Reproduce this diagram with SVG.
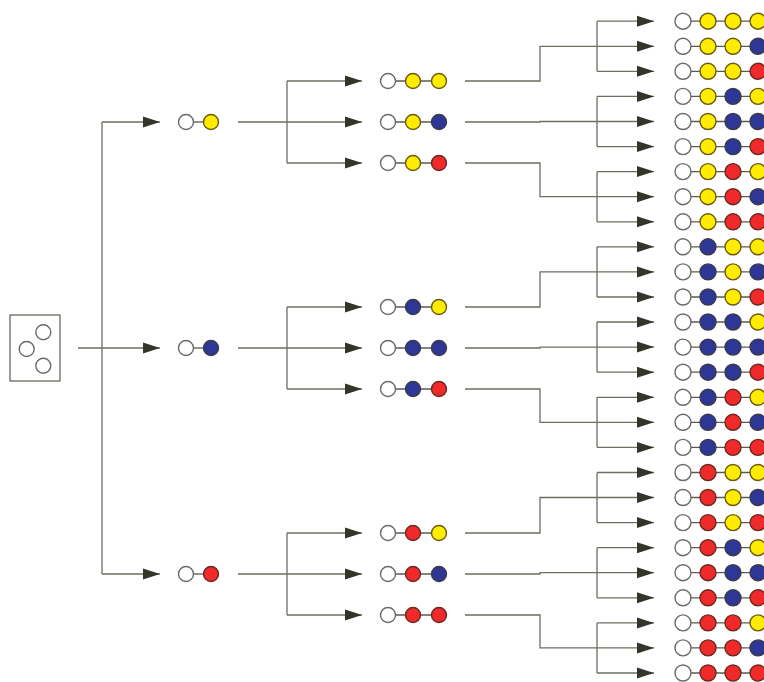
<svg xmlns="http://www.w3.org/2000/svg" width="764" height="682" viewBox="0 0 764 682">
<style>
.c{fill:none;stroke:#6e6e62;stroke-width:1.3}
.a{fill:none;stroke:#6e6e62;stroke-width:1.3;marker-end:url(#ah)}
.k{stroke:#5a5a50;stroke-width:1.3}
.w{fill:#fff;stroke:#6a6a66;stroke-width:1.4}
.y{fill:#ffec00;stroke:#6b5a10;stroke-width:1.4}
.b{fill:#2e3796;stroke:#3a3a4a;stroke-width:1.4}
.r{fill:#f02a2a;stroke:#6a2a20;stroke-width:1.4}
.box{fill:#fff;stroke:#6a6a60;stroke-width:1.3}
</style>
<defs>
<marker id="ah" markerUnits="userSpaceOnUse" markerWidth="18" markerHeight="12" refX="17" refY="6" orient="auto">
<path d="M0,0.5 L17,6 L0,11.5 Z" fill="#34342a"/>
</marker>
</defs>
<rect width="764" height="682" fill="#fff"/>
<g id="connectors">
<!-- level 1 -->
<path class="c" d="M78,348 H102 M102,122 V574"/>
<path class="a" d="M102,122 H160"/>
<path class="a" d="M102,348 H160"/>
<path class="a" d="M102,574 H160"/>
<!-- level 2 -->
<path class="c" d="M238,122 H287 M287,81 V163"/>
<path class="a" d="M287,81 H362"/><path class="a" d="M287,122 H362"/><path class="a" d="M287,163 H362"/>
<path class="c" d="M238,348 H287 M287,307 V389"/>
<path class="a" d="M287,307 H362"/><path class="a" d="M287,348 H362"/><path class="a" d="M287,389 H362"/>
<path class="c" d="M238,574 H287 M287,533 V615"/>
<path class="a" d="M287,533 H362"/><path class="a" d="M287,574 H362"/><path class="a" d="M287,615 H362"/>
<!-- level 3 -->
<path class="c" d="M465,81 H540 V46.3 H597 M597,21.2 V71.3"/>
<path class="a" d="M597,21.2 H654"/><path class="a" d="M597,46.3 H654"/><path class="a" d="M597,71.3 H654"/>
<path class="c" d="M465,122 H540 V121.5 H597 M597,96.4 V146.6"/>
<path class="a" d="M597,96.4 H654"/><path class="a" d="M597,121.5 H654"/><path class="a" d="M597,146.6 H654"/>
<path class="c" d="M465,163 H540 V196.7 H597 M597,171.6 V221.8"/>
<path class="a" d="M597,171.6 H654"/><path class="a" d="M597,196.7 H654"/><path class="a" d="M597,221.8 H654"/>
<path class="c" d="M465,307 H540 V271.9 H597 M597,246.8 V297"/>
<path class="a" d="M597,246.8 H654"/><path class="a" d="M597,271.9 H654"/><path class="a" d="M597,297 H654"/>
<path class="c" d="M465,348 H540 V347.1 H597 M597,322 V372.2"/>
<path class="a" d="M597,322 H654"/><path class="a" d="M597,347.1 H654"/><path class="a" d="M597,372.2 H654"/>
<path class="c" d="M465,389 H540 V422.3 H597 M597,397.3 V447.4"/>
<path class="a" d="M597,397.3 H654"/><path class="a" d="M597,422.3 H654"/><path class="a" d="M597,447.4 H654"/>
<path class="c" d="M465,533 H540 V497.5 H597 M597,472.5 V522.6"/>
<path class="a" d="M597,472.5 H654"/><path class="a" d="M597,497.5 H654"/><path class="a" d="M597,522.6 H654"/>
<path class="c" d="M465,574 H540 V572.7 H597 M597,547.7 V597.8"/>
<path class="a" d="M597,547.7 H654"/><path class="a" d="M597,572.7 H654"/><path class="a" d="M597,597.8 H654"/>
<path class="c" d="M465,615 H540 V647.9 H597 M597,622.9 V673"/>
<path class="a" d="M597,622.9 H654"/><path class="a" d="M597,647.9 H654"/><path class="a" d="M597,673 H654"/>
</g>
<defs>
<g id="L2"><line class="k" x1="186" y1="0" x2="211" y2="0"/><circle class="w" cx="186" cy="0" r="7.5"/></g>
<g id="L3"><line class="k" x1="388" y1="0" x2="439" y2="0"/><circle class="w" cx="388" cy="0" r="7.5"/></g>
<g id="L4"><line class="k" x1="683" y1="0" x2="758" y2="0"/><circle class="w" cx="683" cy="0" r="8"/></g>
</defs>
<g id="root">
<rect class="box" x="10" y="315" width="50" height="66"/>
<circle class="w" cx="43.3" cy="332.3" r="7.5"/>
<circle class="w" cx="26.7" cy="349" r="7.5"/>
<circle class="w" cx="43.3" cy="365.7" r="7.5"/>
</g>
<g id="n-y"><use href="#L2" y="122"/><circle class="y" cx="211" cy="122" r="7.5"/></g>
<g id="n-b"><use href="#L2" y="348"/><circle class="b" cx="211" cy="348" r="7.5"/></g>
<g id="n-r"><use href="#L2" y="574"/><circle class="r" cx="211" cy="574" r="7.5"/></g>
<g id="n-yy"><use href="#L3" y="81"/><circle class="y" cx="413" cy="81" r="7.5"/><circle class="y" cx="439" cy="81" r="7.5"/></g>
<g id="n-yb"><use href="#L3" y="122"/><circle class="y" cx="413" cy="122" r="7.5"/><circle class="b" cx="439" cy="122" r="7.5"/></g>
<g id="n-yr"><use href="#L3" y="163"/><circle class="y" cx="413" cy="163" r="7.5"/><circle class="r" cx="439" cy="163" r="7.5"/></g>
<g id="n-by"><use href="#L3" y="307"/><circle class="b" cx="413" cy="307" r="7.5"/><circle class="y" cx="439" cy="307" r="7.5"/></g>
<g id="n-bb"><use href="#L3" y="348"/><circle class="b" cx="413" cy="348" r="7.5"/><circle class="b" cx="439" cy="348" r="7.5"/></g>
<g id="n-br"><use href="#L3" y="389"/><circle class="b" cx="413" cy="389" r="7.5"/><circle class="r" cx="439" cy="389" r="7.5"/></g>
<g id="n-ry"><use href="#L3" y="533"/><circle class="r" cx="413" cy="533" r="7.5"/><circle class="y" cx="439" cy="533" r="7.5"/></g>
<g id="n-rb"><use href="#L3" y="574"/><circle class="r" cx="413" cy="574" r="7.5"/><circle class="b" cx="439" cy="574" r="7.5"/></g>
<g id="n-rr"><use href="#L3" y="615"/><circle class="r" cx="413" cy="615" r="7.5"/><circle class="r" cx="439" cy="615" r="7.5"/></g>
<g id="n-yyy"><use href="#L4" y="21.2"/><circle class="y" cx="708" cy="21.2" r="8"/><circle class="y" cx="733" cy="21.2" r="8"/><circle class="y" cx="758" cy="21.2" r="8"/></g>
<g id="n-yyb"><use href="#L4" y="46.3"/><circle class="y" cx="708" cy="46.3" r="8"/><circle class="y" cx="733" cy="46.3" r="8"/><circle class="b" cx="758" cy="46.3" r="8"/></g>
<g id="n-yyr"><use href="#L4" y="71.3"/><circle class="y" cx="708" cy="71.3" r="8"/><circle class="y" cx="733" cy="71.3" r="8"/><circle class="r" cx="758" cy="71.3" r="8"/></g>
<g id="n-yby"><use href="#L4" y="96.4"/><circle class="y" cx="708" cy="96.4" r="8"/><circle class="b" cx="733" cy="96.4" r="8"/><circle class="y" cx="758" cy="96.4" r="8"/></g>
<g id="n-ybb"><use href="#L4" y="121.5"/><circle class="y" cx="708" cy="121.5" r="8"/><circle class="b" cx="733" cy="121.5" r="8"/><circle class="b" cx="758" cy="121.5" r="8"/></g>
<g id="n-ybr"><use href="#L4" y="146.6"/><circle class="y" cx="708" cy="146.6" r="8"/><circle class="b" cx="733" cy="146.6" r="8"/><circle class="r" cx="758" cy="146.6" r="8"/></g>
<g id="n-yry"><use href="#L4" y="171.6"/><circle class="y" cx="708" cy="171.6" r="8"/><circle class="r" cx="733" cy="171.6" r="8"/><circle class="y" cx="758" cy="171.6" r="8"/></g>
<g id="n-yrb"><use href="#L4" y="196.7"/><circle class="y" cx="708" cy="196.7" r="8"/><circle class="r" cx="733" cy="196.7" r="8"/><circle class="b" cx="758" cy="196.7" r="8"/></g>
<g id="n-yrr"><use href="#L4" y="221.8"/><circle class="y" cx="708" cy="221.8" r="8"/><circle class="r" cx="733" cy="221.8" r="8"/><circle class="r" cx="758" cy="221.8" r="8"/></g>
<g id="n-byy"><use href="#L4" y="246.8"/><circle class="b" cx="708" cy="246.8" r="8"/><circle class="y" cx="733" cy="246.8" r="8"/><circle class="y" cx="758" cy="246.8" r="8"/></g>
<g id="n-byb"><use href="#L4" y="271.9"/><circle class="b" cx="708" cy="271.9" r="8"/><circle class="y" cx="733" cy="271.9" r="8"/><circle class="b" cx="758" cy="271.9" r="8"/></g>
<g id="n-byr"><use href="#L4" y="297"/><circle class="b" cx="708" cy="297" r="8"/><circle class="y" cx="733" cy="297" r="8"/><circle class="r" cx="758" cy="297" r="8"/></g>
<g id="n-bby"><use href="#L4" y="322"/><circle class="b" cx="708" cy="322" r="8"/><circle class="b" cx="733" cy="322" r="8"/><circle class="y" cx="758" cy="322" r="8"/></g>
<g id="n-bbb"><use href="#L4" y="347.1"/><circle class="b" cx="708" cy="347.1" r="8"/><circle class="b" cx="733" cy="347.1" r="8"/><circle class="b" cx="758" cy="347.1" r="8"/></g>
<g id="n-bbr"><use href="#L4" y="372.2"/><circle class="b" cx="708" cy="372.2" r="8"/><circle class="b" cx="733" cy="372.2" r="8"/><circle class="r" cx="758" cy="372.2" r="8"/></g>
<g id="n-bry"><use href="#L4" y="397.3"/><circle class="b" cx="708" cy="397.3" r="8"/><circle class="r" cx="733" cy="397.3" r="8"/><circle class="y" cx="758" cy="397.3" r="8"/></g>
<g id="n-brb"><use href="#L4" y="422.3"/><circle class="b" cx="708" cy="422.3" r="8"/><circle class="r" cx="733" cy="422.3" r="8"/><circle class="b" cx="758" cy="422.3" r="8"/></g>
<g id="n-brr"><use href="#L4" y="447.4"/><circle class="b" cx="708" cy="447.4" r="8"/><circle class="r" cx="733" cy="447.4" r="8"/><circle class="r" cx="758" cy="447.4" r="8"/></g>
<g id="n-ryy"><use href="#L4" y="472.5"/><circle class="r" cx="708" cy="472.5" r="8"/><circle class="y" cx="733" cy="472.5" r="8"/><circle class="y" cx="758" cy="472.5" r="8"/></g>
<g id="n-ryb"><use href="#L4" y="497.5"/><circle class="r" cx="708" cy="497.5" r="8"/><circle class="y" cx="733" cy="497.5" r="8"/><circle class="b" cx="758" cy="497.5" r="8"/></g>
<g id="n-ryr"><use href="#L4" y="522.6"/><circle class="r" cx="708" cy="522.6" r="8"/><circle class="y" cx="733" cy="522.6" r="8"/><circle class="r" cx="758" cy="522.6" r="8"/></g>
<g id="n-rby"><use href="#L4" y="547.7"/><circle class="r" cx="708" cy="547.7" r="8"/><circle class="b" cx="733" cy="547.7" r="8"/><circle class="y" cx="758" cy="547.7" r="8"/></g>
<g id="n-rbb"><use href="#L4" y="572.7"/><circle class="r" cx="708" cy="572.7" r="8"/><circle class="b" cx="733" cy="572.7" r="8"/><circle class="b" cx="758" cy="572.7" r="8"/></g>
<g id="n-rbr"><use href="#L4" y="597.8"/><circle class="r" cx="708" cy="597.8" r="8"/><circle class="b" cx="733" cy="597.8" r="8"/><circle class="r" cx="758" cy="597.8" r="8"/></g>
<g id="n-rry"><use href="#L4" y="622.9"/><circle class="r" cx="708" cy="622.9" r="8"/><circle class="r" cx="733" cy="622.9" r="8"/><circle class="y" cx="758" cy="622.9" r="8"/></g>
<g id="n-rrb"><use href="#L4" y="647.9"/><circle class="r" cx="708" cy="647.9" r="8"/><circle class="r" cx="733" cy="647.9" r="8"/><circle class="b" cx="758" cy="647.9" r="8"/></g>
<g id="n-rrr"><use href="#L4" y="673"/><circle class="r" cx="708" cy="673" r="8"/><circle class="r" cx="733" cy="673" r="8"/><circle class="r" cx="758" cy="673" r="8"/></g>
</svg>
